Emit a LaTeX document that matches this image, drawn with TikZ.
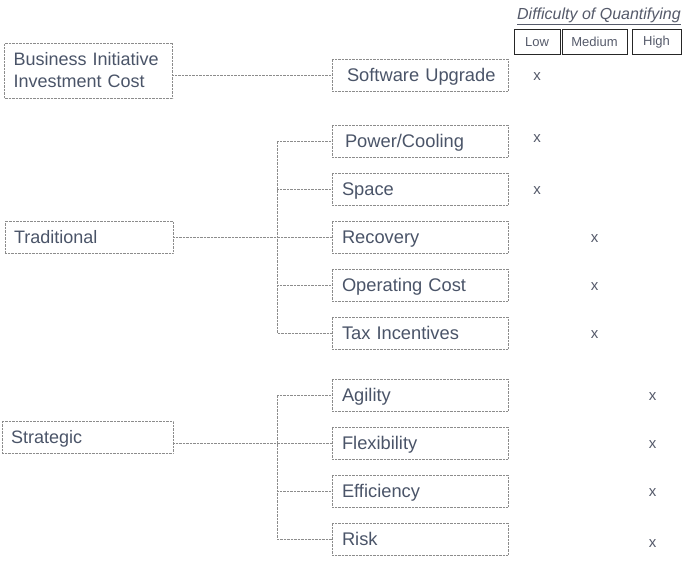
\documentclass[tikz,border=0pt]{standalone}
\usepackage{fontspec}
\setmainfont{Liberation Sans}
\usetikzlibrary{positioning}
\definecolor{boxtext}{RGB}{74,84,104}
\definecolor{boxline}{RGB}{140,140,140}
\definecolor{headtext}{RGB}{85,90,106}
\tikzset{
  item/.style={draw=boxline, densely dotted, rectangle, minimum height=32pt,
    text width=156pt, inner xsep=10pt, inner ysep=0pt, outer sep=0pt, align=left,
    text height=13pt, text depth=0pt,
    text=boxtext, font=\fontsize{18.3}{22}\selectfont},
  group/.style={draw=boxline, densely dotted, rectangle, minimum height=32pt,
    text width=150pt, inner xsep=9pt, inner ysep=0pt, outer sep=0pt, align=left,
    text=boxtext, font=\fontsize{18}{22}\selectfont},
  colhead/.style={draw=black!85, line width=0.8pt, rectangle, minimum height=25pt,
    inner sep=0pt, text=headtext, font=\fontsize{13}{14}\selectfont},
  xmark/.style={text=headtext, font=\fontsize{15}{16}\selectfont, inner sep=0pt,
    yshift=-1.5pt},
  link/.style={draw=boxline, densely dotted}
}
\begin{document}
\begin{tikzpicture}[x=1pt,y=-1pt,node distance=16pt]
    \useasboundingbox (0,0) rectangle (692,562);
    % header
    \node [anchor=base east, inner sep=0pt, text=headtext,
      font=\fontsize{16}{17}\selectfont] (title) at (681,19)
      {\underline{\textit{Difficulty of Quantifying}}};
    \node [colhead, minimum width=46pt] (low) at (537,42) {Low};
    \node [colhead, minimum width=65pt] (medium) at (594.5,42) {Medium};
    \node [colhead, minimum width=49pt] (high) at (656.5,42) {High};

    % left column
    \node [group, minimum height=55pt] (business) at (88.5,70.5) {Business Initiative\\Investment Cost};
    \node [group, text height=13pt, text depth=0pt] (traditional) at (89,237) {Traditional};
    \node [group, text width=153pt, text height=13pt, text depth=0pt] (strategic) at (87.5,437) {Strategic};

    % right column
    \node [item] (upgrade) at (420,75) {\hspace{5pt}Software Upgrade};
    \node [item, below=34pt of upgrade] (power) {\hspace{3pt}Power/Cooling};
    \node [item, below=of power] (space) {Space};
    \node [item, below=of space] (recovery) {Recovery};
    \node [item, below=of recovery] (opcost) {Operating Cost};
    \node [item, below=of opcost] (tax) {Tax Incentives};
    \node [item, below=30pt of tax] (agility) {Agility};
    \node [item, below=of agility] (flexibility) {Flexibility};
    \node [item, below=of flexibility] (efficiency) {Efficiency};
    \node [item, below=of efficiency] (risk) {Risk};

    \coordinate (tjoin) at (277,237);
    \coordinate (sjoin) at (277,443);

    \draw [link] (upgrade.west) -- (upgrade.west -| business.east);
    \draw [link] (traditional) -- (recovery);
    \draw [link] (power.west) -| (tjoin) |- (tax.west);
    \draw [link] (space.west) -- (space.west -| tjoin);
    \draw [link] (opcost.west) -- (opcost.west -| tjoin);
    \draw [link] (strategic.east |- flexibility) -- (flexibility);
    \draw [link] (agility.west) -| (sjoin) |- (risk.west);
    \draw [link] (efficiency.west) -- (efficiency.west -| sjoin);

    % difficulty marks
    \node [xmark] (m1) at (low |- upgrade) {x};
    \node [xmark] (m2) at ([yshift=4pt]low |- power) {x};
    \node [xmark] (m3) at (low |- space) {x};
    \node [xmark] (m4) at (medium |- recovery) {x};
    \node [xmark] (m5) at (medium |- opcost) {x};
    \node [xmark] (m6) at (medium |- tax) {x};
    \node [xmark] (m7) at ([xshift=-4pt]high |- agility) {x};
    \node [xmark] (m8) at ([xshift=-4pt]high |- flexibility) {x};
    \node [xmark] (m9) at ([xshift=-4pt]high |- efficiency) {x};
    \node [xmark] (m10) at ([xshift=-4pt,yshift=-3pt]high |- risk) {x};
\end{tikzpicture}
\end{document}
